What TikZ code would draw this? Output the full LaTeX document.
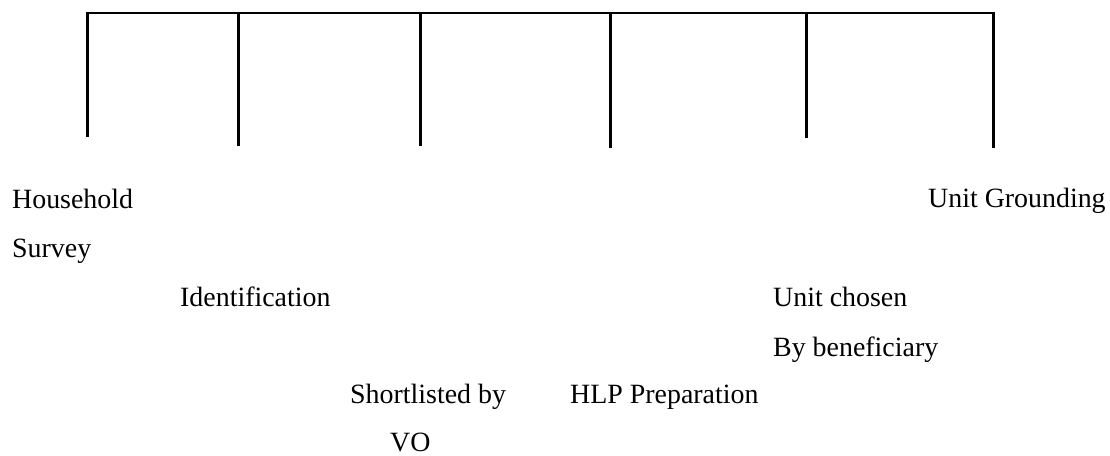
\documentclass[tikz,border=0pt]{standalone}
\usepackage{fontspec}
\setmainfont{Liberation Serif}
\begin{document}
\begin{tikzpicture}[x=1pt,y=-1pt,
  lbl/.style={anchor=base west,inner sep=0pt,font=\fontsize{27.9}{33}\selectfont},
  topline/.style={line width=2pt,line cap=rect},
  tick/.style={line width=3pt}]
\useasboundingbox (0,0) rectangle (1110,455);
% top coordinates
\coordinate (t1) at (87,13);
\coordinate (t2) at (238,13);
\coordinate (t3) at (420,13);
\coordinate (t4) at (610,13);
\coordinate (t5) at (806,13);
\coordinate (t6) at (993,13);
% bottom coordinates
\coordinate (b1) at (87,137);
\coordinate (b2) at (238,146);
\coordinate (b3) at (420,146);
\coordinate (b4) at (610,148);
\coordinate (b5) at (806,138);
\coordinate (b6) at (993,148);
\draw[topline] (t1) -- (t6);
\foreach \i in {1,...,6} \draw[tick] ([yshift=1pt]t\i) -- (b\i);
% labels
\node[lbl] (hh1) at (12,208) {Household};
\node[lbl] (hh2) at (12,257) {Survey};
\node[lbl] (id) at (180,306) {Identification};
\node[lbl] (sl1) at (350,403) {Shortlisted by};
\node[lbl] (sl2) at (390,451) {VO};
\node[lbl] (hlp) at (570,403) {HLP Preparation};
\node[lbl] (uc1) at (773,306) {Unit chosen};
\node[lbl] (uc2) at (773,356) {By beneficiary};
\node[lbl] (ug) at (928,207) {Unit Grounding};
\end{tikzpicture}
\end{document}
